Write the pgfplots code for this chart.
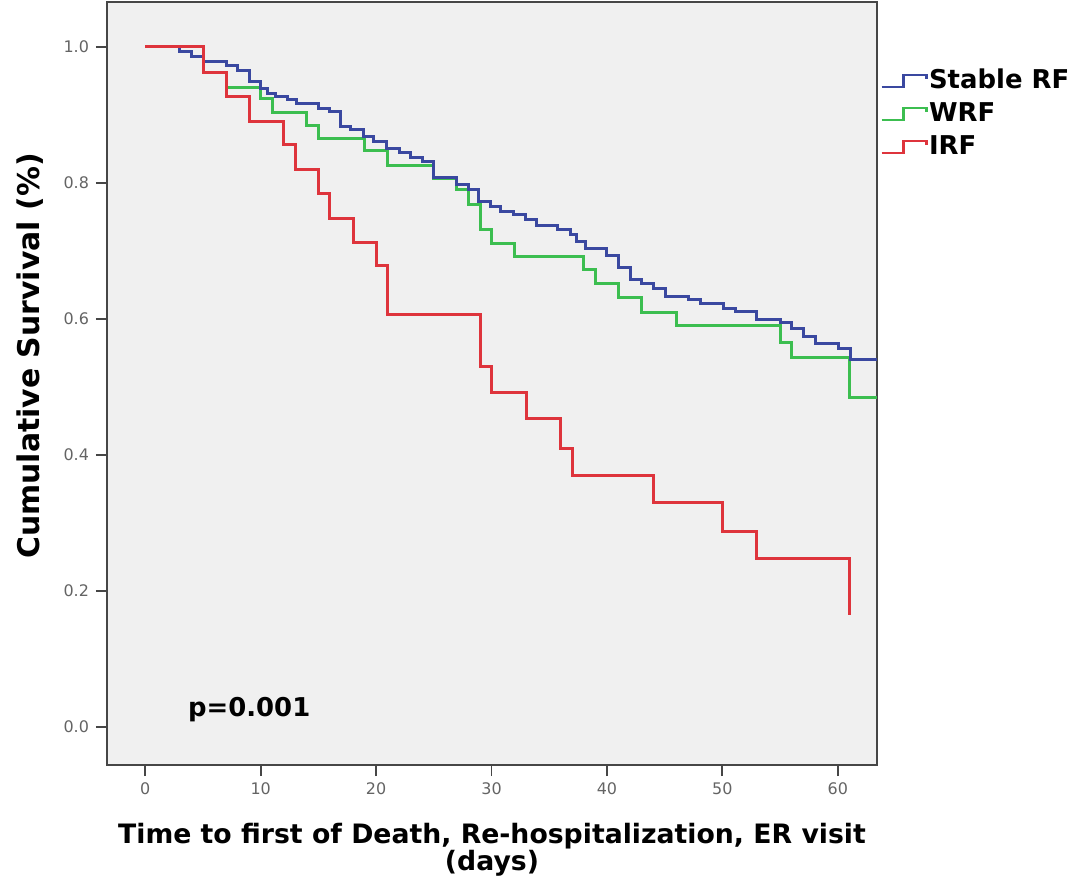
\documentclass[border=0pt]{standalone}
\usepackage{pgfplots}
\pgfplotsset{compat=1.18}
\usepackage{fontspec}
\setmainfont{DejaVu Sans}
\definecolor{kmblue}{RGB}{58,72,160}
\definecolor{kmgreen}{RGB}{60,190,80}
\definecolor{kmred}{RGB}{222,52,60}
\definecolor{bgc}{RGB}{240,240,240}
\definecolor{framec}{RGB}{70,70,70}
\definecolor{tickc}{RGB}{100,100,100}
\begin{document}
\begin{tikzpicture}
\useasboundingbox (-53.5bp,-56.5bp) rectangle (482bp,382.5bp);
\begin{axis}[
  scale only axis,
  width=385bp, height=381.5bp,
  xmin=-3.32, xmax=63.4, ymin=-0.056, ymax=1.066,
  axis background/.style={fill=bgc},
  axis line style={framec, line width=1.2bp},
  xtick={0,10,...,60}, ytick={0,0.2,...,1.0},
  xtick pos=bottom, ytick pos=left,
  tick align=outside,
  major tick length=5.5bp,
  tick style={framec, line width=0.9bp},
  /pgf/number format/assume math mode=true,
  yticklabel={\pgfmathprintnumber[fixed,fixed zerofill,precision=1]{\tick}},
  ticklabel style={font=\fontsize{8}{9}\selectfont, text=tickc},
  xlabel={Time to first of Death, Re-hospitalization, ER visit\\(days)},
  xlabel style={at={(axis description cs:0.5,-0.111)}, anchor=center, align=center, font=\fontsize{13.4}{11.5}\selectfont\bfseries},
  ylabel={Cumulative Survival (\%)},
  ylabel style={at={(axis description cs:-0.1,0.536)}, anchor=center, font=\fontsize{15}{16}\selectfont\bfseries},
  legend style={at={(rel axis cs:1.004,0.912)}, anchor=north west, draw=none, fill=none, inner sep=0pt,
    font=\fontsize{13}{14}\selectfont\bfseries,
    nodes={inner sep=0.6bp, text height=9bp, text depth=2.5bp},
    row sep=3.8bp},
  legend cell align=left,
  legend image code/.code={\draw[#1, line width=1.2bp] (0bp,-2.5bp) -- (11bp,-2.5bp) -- (11bp,3.5bp) -- (22.5bp,3.5bp) -- (22.5bp,1.5bp);},
]
\addlegendimage{kmblue}
\addlegendentry{Stable RF}
\addlegendimage{kmgreen}
\addlegendentry{WRF}
\addlegendimage{kmred}
\addlegendentry{IRF}

% WRF
\addplot[const plot, kmgreen, line width=1.5bp, forget plot] coordinates {
(0,1.0) (5,0.962) (7,0.940) (10,0.924) (11,0.903) (14,0.884) (15,0.866)
(19,0.847) (21,0.826) (25,0.806) (27,0.790) (28,0.768) (29,0.731) (30,0.711)
(32,0.692) (38,0.672) (39,0.652) (41,0.632) (43,0.609) (46,0.590) (55,0.566)
(56,0.543) (61,0.484) (63.4,0.484)
};
% Stable RF
\addplot[const plot, kmblue, line width=1.5bp, forget plot] coordinates {
(0,1.0) (3,0.993) (4,0.986) (5,0.979) (7,0.972) (8,0.965) (9,0.949) (10,0.939)
(10.6,0.932) (11.3,0.927) (12.3,0.922) (13.1,0.917) (15,0.910) (16,0.905)
(16.9,0.883) (17.8,0.878) (18.9,0.868) (19.8,0.861) (20.9,0.851) (22,0.844)
(23,0.838) (24,0.831) (25,0.808) (27,0.797) (28,0.790) (28.9,0.773) (29.9,0.765)
(30.8,0.758) (31.9,0.753) (32.9,0.746) (33.9,0.738) (35.7,0.732) (36.8,0.724)
(37.4,0.714) (38.1,0.704) (40,0.693) (41,0.675) (42,0.658) (43,0.652) (44,0.645)
(45.1,0.633) (47.1,0.628) (48.1,0.622) (50.1,0.616) (51.1,0.611) (53,0.599)
(55,0.594) (56,0.586) (57,0.574) (58.1,0.564) (60.1,0.557) (61.1,0.540) (63.4,0.540)
};
% IRF
\addplot[const plot, kmred, line width=1.5bp, forget plot] coordinates {
(0,1.0) (5,0.962) (7,0.927) (9,0.891) (12,0.856) (13,0.819) (15,0.785) (16,0.748)
(18,0.713) (20,0.678) (21,0.606) (29,0.530) (30,0.492) (33,0.453) (36,0.410)
(37,0.370) (44,0.330) (50,0.288) (53,0.247) (61,0.165)
};
\node[font=\fontsize{13}{14}\selectfont\bfseries, text=black] at (axis cs:9,0.025) {p=0.001};
\end{axis}
\end{tikzpicture}
\end{document}
